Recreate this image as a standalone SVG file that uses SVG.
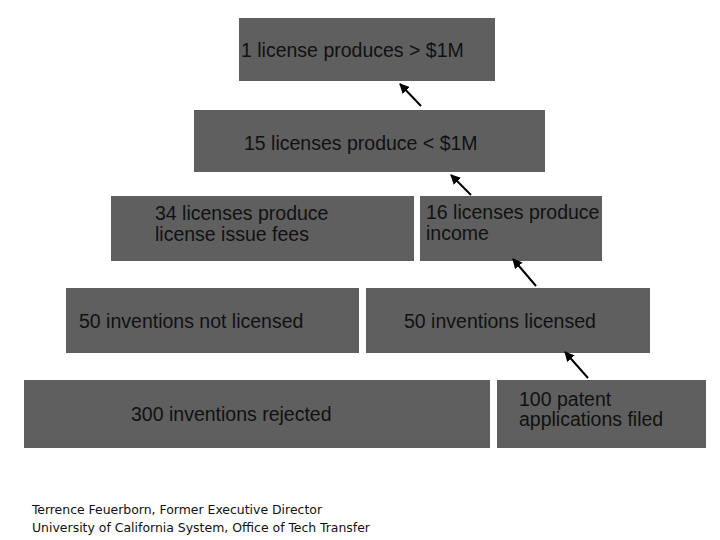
<svg xmlns="http://www.w3.org/2000/svg" width="720" height="540" viewBox="0 0 720 540">
<style>
.b{fill:#5f5f5f}
.t{font-family:"Liberation Sans",Arial,sans-serif;font-size:19.5px;fill:#111}
.f{font-family:"DejaVu Sans Condensed","DejaVu Sans",sans-serif;font-size:12.5px;fill:#111}
.c{stroke:#000;stroke-width:2;fill:none;marker-end:url(#a)}
</style>
<defs><marker id="a" viewBox="0 0 10 10" refX="9" refY="5" markerWidth="5" markerHeight="5" orient="auto"><path d="M0,0L10,5L0,10z" fill="#000"/></marker></defs>
<rect width="720" height="540" fill="#fff"/>
<g id="n1"><rect class="b" x="239" y="18" width="256" height="63"/><text class="t" x="241" y="57">1 license produces &gt; $1M</text></g>
<g id="n2"><rect class="b" x="194" y="110" width="351" height="62"/><text class="t" x="244" y="150">15 licenses produce &lt; $1M</text></g>
<g id="n3"><rect class="b" x="111" y="196" width="303" height="65"/><text class="t" x="155" y="220">34 licenses produce</text><text class="t" x="155" y="241">license issue fees</text></g>
<g id="n4"><rect class="b" x="420" y="196" width="182" height="65"/><text class="t" x="426" y="219">16 licenses produce</text><text class="t" x="426" y="240">income</text></g>
<g id="n5"><rect class="b" x="66" y="288" width="293" height="65"/><text class="t" x="79" y="328">50 inventions not licensed</text></g>
<g id="n6"><rect class="b" x="366" y="288" width="284" height="65"/><text class="t" x="404" y="328">50 inventions licensed</text></g>
<g id="n7"><rect class="b" x="24" y="380" width="466" height="68"/><text class="t" x="131" y="421">300 inventions rejected</text></g>
<g id="n8"><rect class="b" x="497" y="380" width="209" height="68"/><text class="t" x="519" y="406">100 patent</text><text class="t" x="519" y="426">applications filed</text></g>
<g id="connectors">
<line class="c" x1="421" y1="106" x2="400" y2="84"/>
<line class="c" x1="471" y1="195" x2="451" y2="175"/>
<line class="c" x1="536" y1="286" x2="513" y2="259"/>
<line class="c" x1="588" y1="378" x2="565" y2="352"/>
</g>
<text class="f" x="32" y="514" textLength="290" lengthAdjust="spacingAndGlyphs">Terrence Feuerborn, Former Executive Director</text>
<text class="f" x="32" y="532" textLength="338" lengthAdjust="spacingAndGlyphs">University of California System, Office of Tech Transfer</text>
</svg>
